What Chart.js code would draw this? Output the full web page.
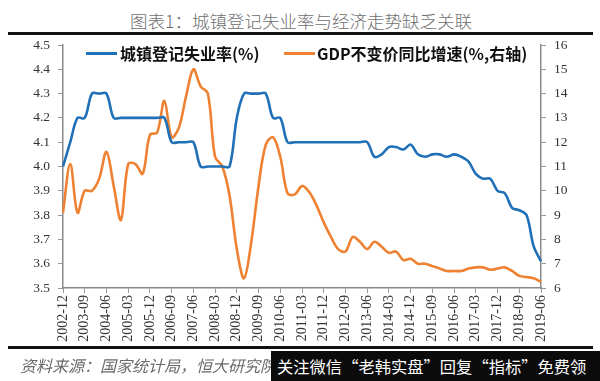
<!DOCTYPE html>
<html>
<head>
<meta charset="utf-8">
<script src="https://cdn.jsdelivr.net/npm/chart.js@4/dist/chart.umd.min.js"></script>
<style>
  html, body { margin: 0; padding: 0; background: #fff; }
  #wrap { position: relative; width: 600px; height: 381px; overflow: hidden; background: #fff; }
  #c { position: absolute; left: 0; top: 0; }
  .title { position: absolute; left: 0; top: 10px; width: 602px; text-align: center; font-family: "Noto Sans CJK SC", sans-serif; font-size: 17.5px; line-height: 22px; color: #6e6e6e; font-weight: 300; }
  .rule { position: absolute; left: 8px; width: 585px; height: 3px; background: #111; }
  .leg { position: absolute; top: 43px; height: 20px; font-family: "Noto Sans CJK SC", sans-serif; font-weight: 700; font-size: 16px; line-height: 20px; color: #111; white-space: nowrap; }
  .legline { position: absolute; height: 3px; top: 52px; }
  .src { position: absolute; left: 20px; top: 354px; font-family: "Noto Sans CJK SC", sans-serif; font-style: italic; font-size: 16px; line-height: 22px; color: #6a6a6a; white-space: nowrap; }
  .wm { position: absolute; left: 271px; top: 351px; width: 329px; height: 30px; background: #0b0b0b; color: #fff; font-family: "Noto Sans CJK SC", sans-serif; font-size: 16.3px; line-height: 30px; padding-left: 6px; box-sizing: border-box; white-space: nowrap; }
</style>
</head>
<body>
<div id="wrap">
  <div class="title">图表1：城镇登记失业率与经济走势缺乏关联</div>
  <div class="rule" style="top:32px"></div>
  <canvas id="c" width="600" height="381"></canvas>
  <div class="legline" style="left:86px;width:31px;background:#1f70b6"></div>
  <div class="leg" style="left:120px">城镇登记失业率(%)</div>
  <div class="legline" style="left:284px;width:31px;background:#ee8232"></div>
  <div class="leg" style="left:317px">GDP不变价同比增速(%,右轴)</div>
  <div class="rule" style="top:346px"></div>
  <div class="src">资料来源：国家统计局，恒大研究院</div>
  <div class="wm">关注微信“老韩实盘”回复“指标”免费领</div>
</div>
<script>
const categories = ['2002-12','2003-03','2003-06','2003-09','2003-12','2004-03','2004-06','2004-09','2004-12','2005-03','2005-06','2005-09','2005-12','2006-03','2006-06','2006-09','2006-12','2007-03','2007-06','2007-09','2007-12','2008-03','2008-06','2008-09','2008-12','2009-03','2009-06','2009-09','2009-12','2010-03','2010-06','2010-09','2010-12','2011-03','2011-06','2011-09','2011-12','2012-03','2012-06','2012-09','2012-12','2013-03','2013-06','2013-09','2013-12','2014-03','2014-06','2014-09','2014-12','2015-03','2015-06','2015-09','2015-12','2016-03','2016-06','2016-09','2016-12','2017-03','2017-06','2017-09','2017-12','2018-03','2018-06','2018-09','2018-12','2019-03','2019-06'];

const unemploymentRate = [4.0,4.1,4.2,4.2,4.3,4.3,4.3,4.2,4.2,4.2,4.2,4.2,4.2,4.2,4.2,4.1,4.1,4.1,4.1,4.0,4.0,4.0,4.0,4.0,4.2,4.3,4.3,4.3,4.3,4.2,4.2,4.1,4.1,4.1,4.1,4.1,4.1,4.1,4.1,4.1,4.1,4.1,4.1,4.04,4.05,4.08,4.08,4.07,4.09,4.05,4.04,4.05,4.05,4.04,4.05,4.04,4.02,3.97,3.95,3.95,3.90,3.89,3.83,3.82,3.80,3.67,3.61];

const gdpGrowth = [9.1,11.1,9.1,10.0,10.0,10.5,11.6,10.2,8.8,11.1,11.1,10.7,12.3,12.4,13.7,12.2,12.6,13.9,15.0,14.3,14.0,11.4,11.0,9.8,7.6,6.4,7.9,10.2,11.9,12.2,11.4,9.9,9.85,10.2,9.95,9.4,8.7,8.1,7.6,7.5,8.1,7.9,7.6,7.9,7.7,7.45,7.5,7.15,7.2,7.0,7.0,6.9,6.8,6.7,6.7,6.7,6.8,6.85,6.85,6.75,6.8,6.85,6.7,6.5,6.45,6.4,6.25];

const leftTicks = {min: 3.5, max: 4.5, step: 0.1};
const rightTicks = {min: 6, max: 16, step: 1};

const tickFont = {family: "'Liberation Serif', 'Times New Roman', serif", size: 13.5};

new Chart(document.getElementById('c'), {
  type: 'line',
  data: {
    labels: categories,
    datasets: [
      {label: '城镇登记失业率(%)', data: unemploymentRate, yAxisID: 'y', borderColor: '#1f70b6', borderWidth: 2.6, pointRadius: 0, tension: 0.35, fill: false},
      {label: 'GDP不变价同比增速(%,右轴)', data: gdpGrowth, yAxisID: 'y1', borderColor: '#ee8232', borderWidth: 2.6, pointRadius: 0, tension: 0.35, fill: false}
    ]
  },
  options: {
    responsive: false,
    animation: false,
    devicePixelRatio: 1,
    layout: {padding: {top: 45, left: 0, right: 0, bottom: 0}},
    plugins: {legend: {display: false}, tooltip: {enabled: false}, title: {display: false}},
    scales: {
      x: {
        offset: false,
        grid: {display: true, drawOnChartArea: false, drawTicks: true, tickLength: 5, color: '#999'},
        border: {display: true, color: '#8a8a8a', width: 1.5},
        ticks: {autoSkip: false, minRotation: 90, maxRotation: 90, color: '#333', font: {family: tickFont.family, size: 14}, padding: 2},
        afterBuildTicks: s => { s.ticks = s.ticks.filter(t => t.value % 3 === 0); },
        afterFit: s => { s.height = 93; }
      },
      y: {
        position: 'left',
        min: leftTicks.min, max: leftTicks.max,
        grid: {display: true, drawOnChartArea: false, drawTicks: true, tickLength: 5, color: '#999'},
        border: {display: true, color: '#8a8a8a', width: 1.5},
        ticks: {stepSize: leftTicks.step, color: '#333', font: tickFont, padding: 8, callback: v => Number(v).toFixed(1)},
        afterFit: s => { s.width = 63; }
      },
      y1: {
        position: 'right',
        min: rightTicks.min, max: rightTicks.max,
        grid: {display: true, drawOnChartArea: false, drawTicks: true, tickLength: 5, color: '#999'},
        border: {display: true, color: '#8a8a8a', width: 1.5},
        ticks: {stepSize: rightTicks.step, color: '#333', font: tickFont, padding: 8},
        afterFit: s => { s.width = 59; }
      }
    }
  }
});
</script>
</body>
</html>
